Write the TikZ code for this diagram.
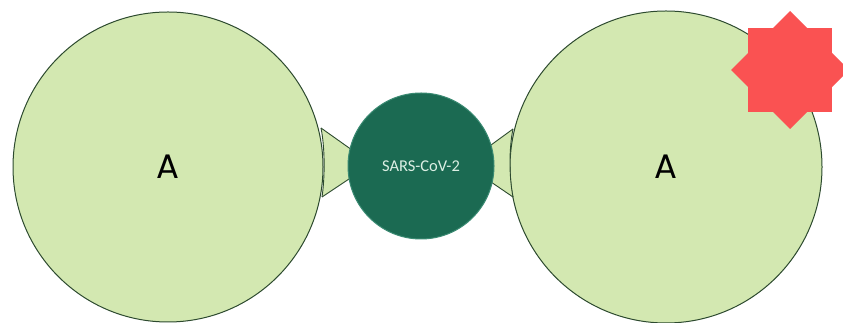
\documentclass[tikz,border=0pt]{standalone}
\usepackage{fontspec}
\setmainfont{Poppins}
\newfontfamily\capfont{Carlito}
\definecolor{cellfill}{HTML}{D3E8B1}
\definecolor{celledge}{HTML}{2D4A2F}
\definecolor{virusfill}{HTML}{1B6A52}
\definecolor{virusedge}{HTML}{3A8A72}
\definecolor{virustext}{HTML}{DCEFE4}
\definecolor{starred}{HTML}{FA5252}
\tikzset{
  cell/.style={circle, draw=celledge, fill=cellfill, line width=1pt, minimum size=#1, inner sep=0pt},
  celllabel/.style={font=\fontsize{34}{34}\selectfont},
  virus/.style={circle, draw=virusedge, fill=virusfill, line width=1pt, minimum size=146pt, inner sep=0pt, text=virustext, font=\capfont\fontsize{16.5}{16.5}\selectfont},
  bridge/.style={draw=celledge, line width=0.9pt, line join=round},
  burst/.style={fill=starred, draw=none}
}
\begin{document}
\begin{tikzpicture}[x=1pt,y=1pt]
\useasboundingbox (0,0) rectangle (843,323);
\fill[white] (0,0) rectangle (843,323);
\begin{scope}
\clip (0,0) rectangle (843,323);
\node[cell=310pt] (L) at (168,156) {};
\node[cell=312pt] (R) at (666,156) {};
\node[celllabel] (LA) at (L.center) {A};
\node[celllabel] (RA) at (R.center) {A};
% bridges
\coordinate (lt) at (321,195);
\coordinate (lb) at (322,126);
\coordinate (mlt) at (352,173);
\coordinate (mlb) at (352,146);
\fill[cellfill] (lt) .. controls (325,175) and (325,146) .. (lb) -- (mlb) -- (mlt) -- cycle;
\draw[bridge] (lt) .. controls (325,175) and (325,146) .. (lb);
\draw[bridge] (lt) -- (mlt);
\draw[bridge] (lb) -- (mlb);
\coordinate (rt) at (513,194);
\coordinate (rb) at (513,126);
\coordinate (mrt) at (491,178);
\coordinate (mrb) at (491,141);
\fill[cellfill] (rt) .. controls (509,175) and (509,146) .. (rb) -- (mrb) -- (mrt) -- cycle;
\draw[bridge] (rt) .. controls (509,175) and (509,146) .. (rb);
\draw[bridge] (rt) -- (mrt);
\draw[bridge] (rb) -- (mrb);
\node[virus] (M) at (421,157) {SARS-CoV-2};
% eight-pointed star: two overlapping squares
\coordinate (S) at (790,253);
\fill[burst] ([shift={(-42,-42)}]S) rectangle ([shift={(42,42)}]S);
\fill[burst] ([shift={(0,59)}]S) -- ([shift={(59,0)}]S) -- ([shift={(0,-59)}]S) -- ([shift={(-59,0)}]S) -- cycle;
\end{scope}
\end{tikzpicture}
\end{document}
